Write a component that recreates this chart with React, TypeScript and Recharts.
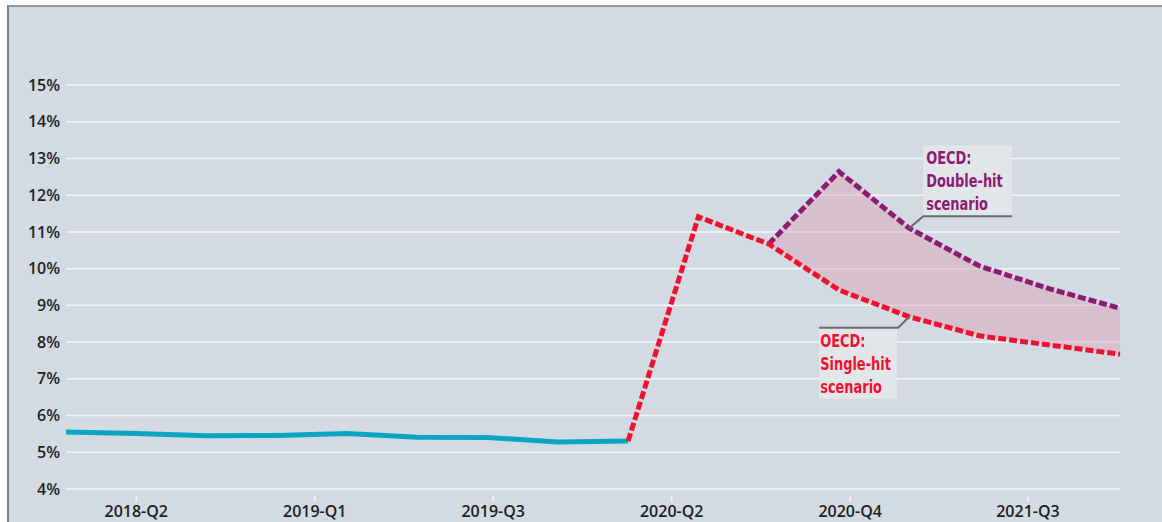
/** Unemployment rate with OECD single-hit / double-hit projections,
 * quarterly from 2018-Q1, dashed projection lines and a shaded band between them. */

import {
  Area,
  CartesianGrid,
  ComposedChart,
  Line,
  ReferenceDot,
  XAxis,
  YAxis,
} from "recharts";

const quarters = [
  "2018-Q1", "2018-Q2", "2018-Q3", "2018-Q4",
  "2019-Q1", "2019-Q2", "2019-Q3", "2019-Q4",
  "2020-Q1", "2020-Q2", "2020-Q3", "2020-Q4",
  "2021-Q1", "2021-Q2", "2021-Q3", "2021-Q4",
];

const actual = [5.55, 5.51, 5.45, 5.46, 5.51, 5.41, 5.4, 5.28, 5.31, null, null, null, null, null, null, null];
const singleHit = [null, null, null, null, null, null, null, null, 5.31, 11.41, 10.67, 9.42, 8.69, 8.17, 7.92, 7.67];
const doubleHit = [null, null, null, null, null, null, null, null, null, null, 10.67, 12.64, 11.1, 10.07, 9.45, 8.92];

// the source axis puts its labels every ~2.5 quarters, not on the data points
const xTickPositions = [1, 3.54, 6.08, 8.62, 11.16, 13.69];
const xTickLabels = ["2018-Q2", "2019-Q1", "2019-Q3", "2020-Q2", "2020-Q4", "2021-Q3"];
const yTicks = [4, 5, 6, 7, 8, 9, 10, 11, 12, 13, 14, 15];

const labelIndex = 12;

const data = quarters.map((q, i) => ({
  i,
  q,
  actual: actual[i],
  single: singleHit[i],
  double: doubleHit[i],
  band: singleHit[i] != null && doubleHit[i] != null ? [singleHit[i], doubleHit[i]] : undefined,
}));

const TEAL = "#0aa5c0";
const RED = "#f0112f";
const PURPLE = "#8c1b74";
const TICK_FONT = "'Open Sans', 'Noto Sans', sans-serif";
const NOTE_FONT = "'DejaVu Sans Condensed', 'DejaVu Sans', sans-serif";

function XTick({ x, y, payload }: { x?: number; y?: number; payload?: { value: number } }) {
  if (x == null || y == null || !payload) return null;
  const label = xTickLabels[xTickPositions.indexOf(payload.value)];
  return (
    <g>
      <line x1={x} x2={x} y1={y + 7} y2={y + 13} stroke="#f4f6f8" strokeWidth={1.5} />
      <text x={x} y={y + 28} textAnchor="middle" fontFamily={TICK_FONT} fontWeight={600} fontSize={16} fill="#1f1f1f">
        {label}
      </text>
    </g>
  );
}

function Note({
  cx,
  cy,
  lines,
  color,
  side,
}: {
  cx?: number;
  cy?: number;
  lines: string[];
  color: string;
  side: "up" | "down";
}) {
  if (cx == null || cy == null) return null;
  const up = side === "up";
  const bx = up ? cx + 14 : cx - 90;
  const by = up ? cy - 83 : cy + 11;
  const ly = up ? cy - 12 : cy + 11;
  const elbow = up ? cx + 14 : cx - 11;
  const far = up ? cx + 103 : cx - 90;
  const tx = bx + (up ? 3 : 1);
  return (
    <g>
      <rect x={bx} y={by} width={up ? 89 : 78} height={71} fill="#e3e6e9" />
      <polyline
        points={`${cx},${cy} ${elbow},${ly} ${far},${ly}`}
        fill="none"
        stroke="#6a6a6a"
        strokeWidth={2}
      />
      {lines.map((t, k) => (
        <text
          key={t}
          transform={`translate(${tx},${by + 19 + k * 23}) scale(0.8,1)`}
          fontFamily={NOTE_FONT}
          fontWeight={700}
          fontSize={18}
          fill={color}
        >
          {t}
        </text>
      ))}
    </g>
  );
}

export default function App() {
  return (
    <div style={{ position: "absolute", left: 0, top: 0, width: 1162, height: 522, background: "#fff", overflow: "hidden" }}>
      <div
        style={{
          position: "absolute",
          left: 7,
          top: 5,
          right: 0,
          bottom: 0,
          background: "#d3dae2",
          borderTop: "2px solid #9a9a9a",
          borderLeft: "2px solid #808080",
        }}
      />
      <div style={{ position: "absolute", left: 0, top: 0 }}>
        <ComposedChart width={1162} height={522} data={data} margin={{ top: 85, right: 42, bottom: 0, left: 0 }}>
          <CartesianGrid horizontal vertical={false} stroke="#f3f5f7" strokeWidth={1.5} />
          <XAxis
            dataKey="i"
            type="number"
            domain={[0, 15]}
            ticks={xTickPositions}
            axisLine={false}
            tickLine={false}
            tickSize={0}
            tickMargin={0}
            height={33}
            interval={0}
            tick={<XTick />}
          />
          <YAxis
            domain={[4, 15]}
            ticks={yTicks}
            width={66}
            axisLine={false}
            tickLine={false}
            tickSize={0}
            tickMargin={6}
            tickFormatter={(v: number) => `${v}%`}
            tick={{ fill: "#1f1f1f", fontSize: 16, fontWeight: 600, fontFamily: TICK_FONT }}
          />
          <Area
            dataKey="band"
            type="linear"
            stroke="none"
            fill="#dc9fb6"
            fillOpacity={0.45}
            isAnimationActive={false}
          />
          <Line
            dataKey="actual"
            type="linear"
            stroke={TEAL}
            strokeWidth={5}
            dot={false}
            isAnimationActive={false}
          />
          <Line
            dataKey="double"
            type="linear"
            stroke={PURPLE}
            strokeWidth={5}
            strokeDasharray="8 3"
            dot={false}
            isAnimationActive={false}
          />
          <Line
            dataKey="single"
            type="linear"
            stroke={RED}
            strokeWidth={5}
            strokeDasharray="8 3"
            dot={false}
            isAnimationActive={false}
          />
          <ReferenceDot
            x={labelIndex}
            y={doubleHit[labelIndex] as number}
            r={0}
            shape={(p: { cx?: number; cy?: number }) => (
              <Note cx={p.cx} cy={p.cy} lines={["OECD:", "Double-hit", "scenario"]} color={PURPLE} side="up" />
            )}
          />
          <ReferenceDot
            x={labelIndex}
            y={singleHit[labelIndex] as number}
            r={0}
            shape={(p: { cx?: number; cy?: number }) => (
              <Note cx={p.cx} cy={p.cy} lines={["OECD:", "Single-hit", "scenario"]} color={RED} side="down" />
            )}
          />
        </ComposedChart>
      </div>
    </div>
  );
}
